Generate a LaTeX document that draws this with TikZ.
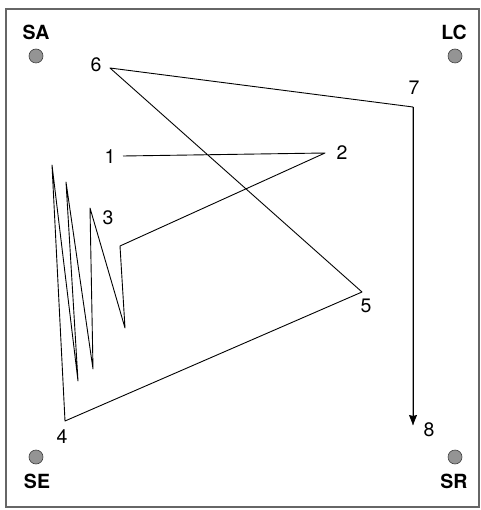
\documentclass[tikz,border=0pt]{standalone}
\usepackage{fontspec}
\setmainfont{TeX Gyre Heros}
\usepackage{xcolor}
\usepackage{tikz}
\usetikzlibrary{arrows.meta}
\usetikzlibrary{positioning}

\begin{document}
\begin{tikzpicture}[
  x=1pt, y=-1pt,
  every path/.style={line width=0.9pt},
  num/.style={font=\fontsize{19.5}{19.5}\selectfont, inner sep=0pt},
  corner/.style={font=\fontsize{19.5}{19.5}\selectfont\bfseries, inner sep=0pt},
  mic/.style={circle, draw=black!75, fill=black!42, line width=0.6pt, minimum size=14pt, inner sep=0pt},
]
\tikzset{>={Stealth[length=10pt, width=8pt, inset=1pt]}}
  \useasboundingbox (0,0) rectangle (480,510);

  % Frame
  \draw[black!60, line width=2.4pt] (6,9) rectangle (479,507);

  % Corners
  \node[corner] (sa) at (36, 32)  {SA};
  \node[corner] (lc) at (454, 32) {LC};
  \node[corner] (se) at (37, 481) {SE};
  \node[corner] (sr) at (454, 481){SR};
  \node[mic] (msa) at (36, 56)  {};
  \node[mic] (mlc) at (455, 56) {};
  \node[mic] (mse) at (36, 457) {};
  \node[mic] (msr) at (455, 457){};

  % Points
  \coordinate (p1) at (123, 156);
  \coordinate (p2) at (325, 153);
  \coordinate (z1) at (120, 246);
  \coordinate (z2) at (125, 328);
  \coordinate (p3) at (90, 208);
  \coordinate (z3) at (93, 369);
  \coordinate (z4) at (66, 182);
  \coordinate (z5) at (78, 381);
  \coordinate (z6) at (52, 165);
  \coordinate (p4) at (65, 421);
  \coordinate (p5) at (362, 292);
  \coordinate (p6) at (110, 68);
  \coordinate (p7) at (413, 107);
  \coordinate (p8) at (413, 425);

  % Labels
  \node[num] (n1) at (110, 157) {1};
  \node[num] (n2) at (342, 153) {2};
  \node[num] (n3) at (108, 218) {3};
  \node[num] (n4) at (62, 437)  {4};
  \node[num] (n5) at (366, 306) {5};
  \node[num] (n6) at (96, 65)   {6};
  \node[num] (n7) at (414, 88)  {7};
  \node[num] (n8) at (429, 430) {8};

  % Track
  \draw[line join=round] (p1) -- (p2) -- (z1) -- (z2) -- (p3) -- (z3) -- (z4)
    -- (z5) -- (z6) -- (p4) -- (p5) -- (p6) -- (p7) |- (p8);
  \draw[->] (p7) -- (p8);

\end{tikzpicture}
\end{document}
